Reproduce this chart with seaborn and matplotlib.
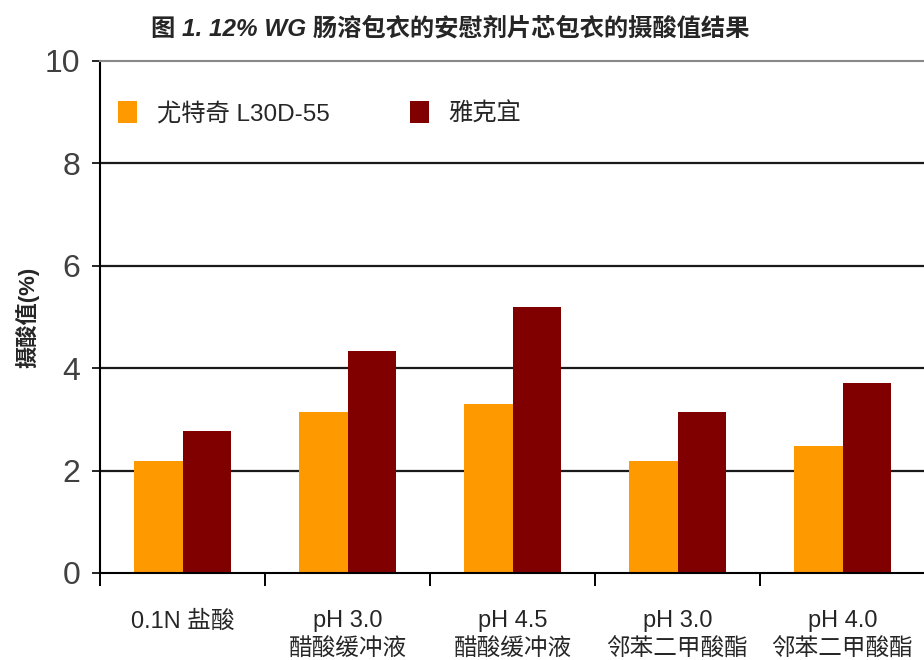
import pandas as pd
import seaborn as sns
import matplotlib.pyplot as plt
from matplotlib.ticker import FixedLocator

categories = ['0.1N 盐酸', 'pH 3.0\n醋酸缓冲液', 'pH 4.5\n醋酸缓冲液',
              'pH 3.0\n邻苯二甲酸酯', 'pH 4.0\n邻苯二甲酸酯']
series_names = ['尤特奇 L30D-55', '雅克宜']
eudragit = [2.19, 3.14, 3.30, 2.19, 2.48]
yakeyi = [2.77, 4.34, 5.20, 3.14, 3.72]
yticks = [0, 2, 4, 6, 8, 10]

df = pd.DataFrame({
    'cat': categories * 2,
    'series': [series_names[0]] * 5 + [series_names[1]] * 5,
    'value': eudragit + yakeyi,
})

sns.set_style('white')
plt.rcParams['font.family'] = ['Liberation Sans', 'Noto Sans CJK SC', 'DejaVu Sans']

fig = plt.figure(figsize=(9.24, 6.6), dpi=100)
ax = fig.add_axes([100 / 924, 87 / 660, 825 / 924, 512 / 660])

for y in yticks[1:-1]:
    ax.axhline(y, color='#1a1a1a', lw=1.6, zorder=0)

sns.barplot(data=df, x='cat', y='value', hue='series', order=categories,
            palette=['#FF9900', '#800000'], width=0.59, saturation=1,
            linewidth=0, ax=ax)

ax.set_ylim(0, 10)
ax.set_xlim(-0.5, 4.5)
ax.set_yticks(yticks)
ax.tick_params(axis='y', left=True, labelsize=23, labelcolor='#404040',
               length=6, width=1.2, color='black', direction='out', pad=8)
ax.xaxis.set_minor_locator(FixedLocator([-0.5, 0.5, 1.5, 2.5, 3.5]))
ax.tick_params(axis='x', which='both', bottom=True)
ax.tick_params(axis='x', which='major', length=0, labelsize=17, pad=27)
ax.tick_params(axis='x', which='minor', length=9, width=1.4, color='black',
               direction='out')
for lab in ax.get_xticklabels():
    lab.set_linespacing(1.35)

ax.set_xlabel('')
ax.set_ylabel('摄酸值(%)', fontsize=16, fontweight='bold', labelpad=4)

for s in ['left', 'bottom']:
    ax.spines[s].set_color('black')
    ax.spines[s].set_linewidth(1.5)
ax.spines['right'].set_visible(False)
ax.spines['top'].set_color('#888888')
ax.spines['top'].set_linewidth(1.5)

ax.legend(loc='upper left', bbox_to_anchor=(0.01, 0.94), ncol=2,
          frameon=False, fontsize=17.5, handlelength=0.8, handleheight=1.0,
          handletextpad=0.8, columnspacing=3.3, borderaxespad=0)

fig.suptitle('图 1. 12% WG 肠溶包衣的安慰剂片芯包衣的摄酸值结果',
             x=450 / 924, y=0.975, fontsize=17.5, fontweight='bold',
             style='italic')

fig.savefig('out.png', dpi=100)
